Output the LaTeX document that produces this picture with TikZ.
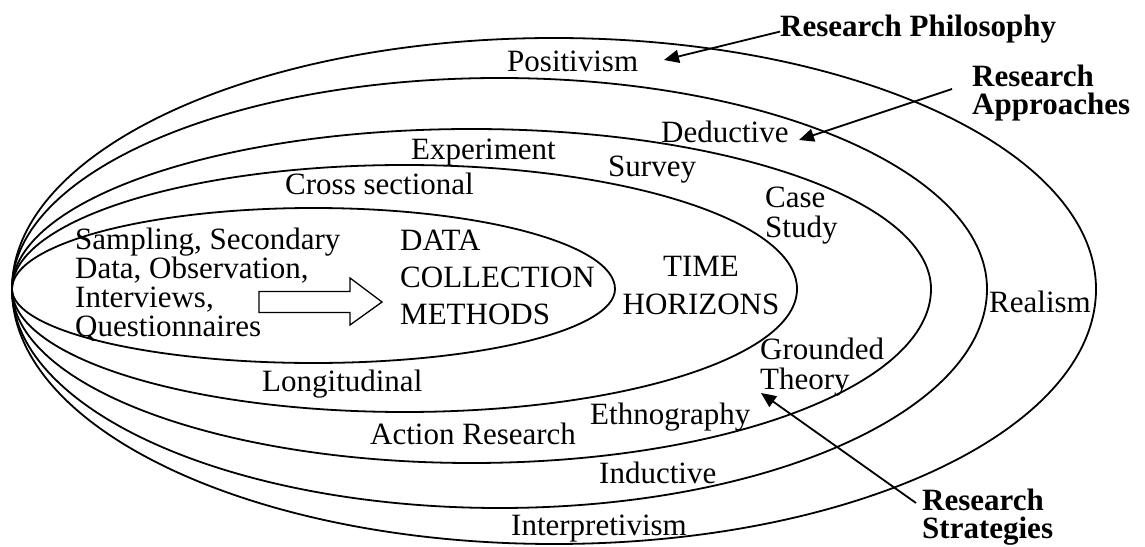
\documentclass[tikz,border=0pt]{standalone}
\usepackage{fontspec}
\setmainfont{Liberation Serif}
\usetikzlibrary{arrows.meta}
\begin{document}
\begin{tikzpicture}[x=1pt,y=1pt,
  ring/.style={line width=1.8pt},
  lbl/.style={inner sep=0pt,anchor=base west,font=\fontsize{31}{29}\selectfont},
  multi/.style={lbl,align=left},
  caption/.style={inner sep=0pt,anchor=base west,align=left,font=\fontsize{31}{28}\selectfont\bfseries},
  pointer/.style={line width=1.8pt,-{Triangle[length=15pt,width=13pt]}}]
\useasboundingbox (0,0) rectangle (1145,546);
% common left point of the onion rings
\coordinate (L) at (12,257);
% rings: upper half then lower half, outermost first
\draw[ring] (L) arc[start angle=180,end angle=0,x radius=542,y radius=251]
                arc[start angle=0,end angle=-180,x radius=542,y radius=255];
\draw[ring] (L) arc[start angle=180,end angle=0,x radius=487.5,y radius=211]
                arc[start angle=0,end angle=-180,x radius=487.5,y radius=219];
\draw[ring] (L) arc[start angle=180,end angle=0,x radius=459.5,y radius=160]
                arc[start angle=0,end angle=-180,x radius=459.5,y radius=174];
\draw[ring] (L) arc[start angle=180,end angle=0,x radius=392.5,y radius=124]
                arc[start angle=0,end angle=-180,x radius=392.5,y radius=123];
\draw[ring] (L) arc[start angle=180,end angle=0,x radius=301.5,y radius=81]
                arc[start angle=0,end angle=-180,x radius=301.5,y radius=74];

% ring labels (multi-line labels sit on the baseline of their last line)
\node[lbl] (positivism) at (507,474) {Positivism};
\node[lbl] (deductive) at (661,403) {Deductive};
\node[lbl] (experiment) at (411,386) {Experiment};
\node[lbl] (survey) at (608,369) {Survey};
\node[lbl] (crosssec) at (285,351) {Cross sectional};
\node[multi,font=\fontsize{31}{30}\selectfont] (casestudy) at (765,308) {Case\\Study};
\node[multi] (methods) at (75,209) {Sampling, Secondary\\Data, Observation,\\Interviews,\\Questionnaires};
\node[lbl,align=left,font=\fontsize{31}{37}\selectfont] (dcm) at (400,221) {DATA\\COLLECTION\\METHODS};
\node[lbl,anchor=base,align=center,font=\fontsize{31}{38}\selectfont] (time) at (701,231) {TIME\\HORIZONS};
\node[lbl] (realism) at (989,233) {Realism};
\node[multi,font=\fontsize{31}{30}\selectfont] (grounded) at (760,156) {Grounded\\Theory};
\node[lbl] (longitudinal) at (262,154) {Longitudinal};
\node[lbl] (ethnography) at (590,121) {Ethnography};
\node[lbl] (action) at (370,101) {Action Research};
\node[lbl] (inductive) at (599,63) {Inductive};
\node[lbl] (interpretivism) at (511,11) {Interpretivism};

% block arrow into the data collection methods
\draw[line width=1.3pt,miter limit=10]
  (259,254.5) -- (350,254.5) -- (350,268) -- (382,244) -- (350,221)
  -- (350,233.5) -- (259,233.5) -- cycle;

% layer captions and their pointers
\node[caption] (resphil) at (780,509) {Research Philosophy};
\node[caption] (resappr) at (972,431) {Research\\Approaches};
\node[caption] (resstrat) at (922,8) {Research\\Strategies};
\coordinate (tipphil) at (664,486);
\coordinate (tipappr) at (799,406);
\coordinate (tipstrat) at (761,153);
\draw[pointer] ([yshift=-2pt]resphil.west) -- (tipphil);
\draw[pointer] ([shift={(-20pt,26pt)}]resappr.base west) -- (tipappr);
\draw[pointer] ([shift={(-6pt,35pt)}]resstrat.base west) -- (tipstrat);
\end{tikzpicture}
\end{document}
